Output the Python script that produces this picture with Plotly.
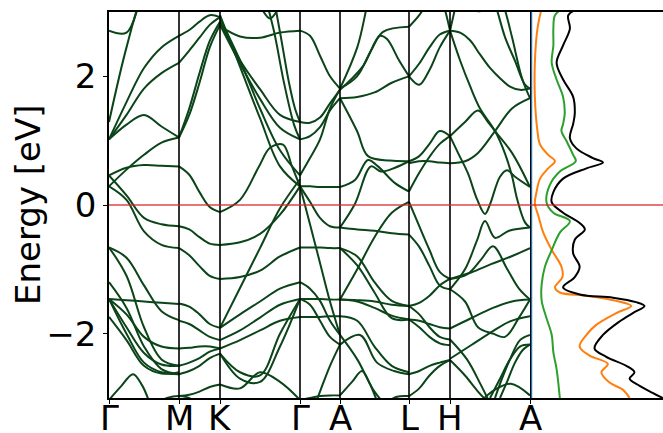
import plotly.graph_objects as go

# ---------------- data ----------------
KLABELS = ["Γ", "M", "K", "Γ", "A", "L", "H", "A"]
KPTS = [0, 70, 111, 191, 231, 300, 341, 421]
FRAC = [0, 0.25, 0.5, 0.75, 1.0]
YTICKS = [-2, 0, 2]

# band energies (eV) sampled at FRAC along each path segment
SEG_GM = [
    [2.71, 2.68, 3.3, 3.6, 3.8],
    [1.29, 2.45, 3.35, 3.8, 4.0],
    [1.02, 1.6, 2.13, 2.45, 2.63],
    [1.02, 1.4, 1.81, 2.05, 2.21],
    [1.02, 1.25, 1.40, 1.22, 1.05],
    [0.29, 0.55, 0.78, 0.97, 1.05],
    [0.46, 0.58, 0.62, 0.61, 0.60],
    [0.46, 0.15, -0.2, -0.3, -0.33],
    [0.29, 0.08, -0.41, -0.62, -0.67],
    [-0.66, -0.82, -1.25, -1.65, -1.79],
    [-0.66, -1.1, -1.9, -2.4, -2.5],
    [-1.2, -1.6, -2.2, -2.55, -2.63],
    [-1.46, -1.48, -1.5, -1.52, -1.54],
    [-1.46, -1.7, -2.05, -2.2, -2.23],
    [-1.46, -1.9, -2.3, -2.48, -2.5],
    [-1.46, -2.0, -2.45, -2.6, -2.63],
    [-1.74, -2.1, -2.5, -2.62, -2.6],
]
SEG_MK = [
    [2.63, 2.72, 2.85, 2.95, 2.92],
    [2.21, 2.4, 2.6, 2.8, 2.92],
    [1.05, 1.5, 2.05, 2.55, 2.85],
    [1.05, 1.4, 1.9, 2.45, 2.8],
    [0.60, 0.47, 0.2, -0.03, -0.11],
    [-0.33, -0.38, -0.5, -0.6, -0.62],
    [-0.67, -0.78, -0.95, -1.1, -1.15],
    [-1.53, -1.58, -1.7, -1.85, -1.91],
    [-1.8, -1.85, -1.95, -2.05, -2.1],
    [-2.23, -2.22, -2.2, -2.2, -2.23],
    [-2.5, -2.45, -2.38, -2.28, -2.23],
    [-2.63, -2.58, -2.5, -2.38, -2.31],
    [-2.97, -2.95, -2.9, -2.83, -2.79],
]
SEG_KG = [
    [2.78, 2.62, 2.6, 2.68, 2.71],
    [2.85, 2.25, 1.8, 1.4, 1.29],
    [2.8, 2.2, 1.65, 1.2, 1.02],
    [2.9, 2.25, 1.5, 0.85, 0.46],
    [2.95, 2.15, 1.35, 0.6, 0.29],
    [-1.91, -1.29, -0.67, -0.05, 0.40],
    [-0.62, -0.58, -0.45, -0.15, 0.29],
    [-1.15, -1.12, -1.02, -0.8, -0.66],
    [-2.1, -1.95, -1.75, -1.55, -1.46],
    [-2.23, -2.1, -1.95, -1.8, -1.74],
    [-1.91, -1.7, -1.5, -1.3, -1.2],
    [-2.31, -2.6, -2.65, -2.0, -1.46],
    [-2.31, -2.7, -2.75, -2.2, -1.46],
    [-2.79, -2.85, -2.6, -2.75, -3.03],
]
SEG_GA = [
    [2.71, 2.63, 2.32, 2.0, 1.81],
    [1.29, 1.28, 1.36, 1.58, 1.79],
    [1.02, 1.07, 1.21, 1.47, 1.66],
    [0.46, 0.73, 1.02, 1.5, 1.8],
    [0.29, 0.29, 0.28, 0.28, 0.28],
    [0.29, 0.05, -0.2, -0.33, -0.35],
    [-0.66, -0.66, -0.66, -0.67, -0.67],
    [0.29, -0.3, -0.9, -1.5, -2.02],
    [-1.2, -1.3, -1.49, -1.8, -2.02],
    [-1.46, -1.46, -1.46, -1.47, -1.47],
    [-1.74, -1.74, -1.74, -1.73, -1.73],
    [-1.46, -1.55, -1.8, -2.05, -2.17],
    [-3.03, -3.0, -2.97, -2.96, -2.96],
    [-3.6, -3.3, -2.9, -2.5, -2.17],
]
SEG_AL = [
    [1.81, 2.45, 3.5, 3.9, 4.0],
    [1.66, 1.68, 1.75, 1.9, 2.0],
    [-1.47, -1.0, -0.5, -0.12, 0.05],
    [-0.35, -0.38, -0.4, -0.44, -0.46],
    [-0.67, -0.8, -1.2, -1.49, -1.57],
    [-0.67, -0.94, -1.36, -1.76, -1.78],
    [-1.47, -1.48, -1.5, -1.55, -1.57],
    [-1.47, -1.5, -1.6, -1.72, -1.78],
    [-1.73, -1.8, -2.2, -2.5, -2.6],
    [-2.02, -2.4, -2.9, -3.2, -3.4],
]
SEG_LH = [
    [2.0, 1.87, 2.1, 2.45, 2.71],
    [2.0, 2.2, 2.45, 2.65, 2.71],
    [2.77, 2.95, 3.2, 3.4, 3.5],
    [0.68, 0.76, 0.95, 1.15, 1.07],
    [0.65, 0.68, 0.68, 0.66, 0.65],
    [0.21, 0.5, 0.75, 0.95, 1.07],
    [0.05, -0.33, -0.7, -1.04, -1.15],
    [-0.46, -0.65, -0.95, -1.25, -1.31],
    [-1.57, -1.52, -1.41, -1.25, -1.15],
    [-1.78, -1.8, -1.85, -1.9, -1.92],
    [-1.57, -1.7, -1.9, -2.05, -2.09],
    [-1.78, -1.9, -2.05, -2.15, -2.18],
    [-2.63, -2.58, -2.5, -2.45, -2.41],
    [-2.97, -2.85, -2.65, -2.5, -2.41],
]
SEGMENTS = [SEG_GM, SEG_MK, SEG_KG, SEG_GA, SEG_AL, SEG_LH]

# band pieces with their own k samples: (k list, energy list)
FREE_BANDS = [
    ([0, 12, 24, 33, 40], [-3.03, -2.82, -2.63, -2.8, -3.05]),
    ([45, 58, 70, 80, 88], [-3.1, -3.0, -2.97, -3.0, -3.1]),
    ([148, 154, 161, 168, 174], [3.3, 3.02, 2.9, 3.02, 3.3]),
    ([165, 172, 180, 186, 191], [3.2, 2.6, 1.9, 1.5, 1.29]),
    ([155, 165, 175, 185, 191], [3.3, 2.7, 1.9, 1.25, 1.02]),
    ([111, 131, 150, 161, 174, 183, 191], [-0.11, 0.08, 0.6, 0.89, 0.94, 0.6, 0.29]),
    ([231, 248, 262, 274, 300], [1.81, 2.0, 2.4, 2.69, 2.77]),
    ([257, 268, 274, 280, 290], [3.4, 3.08, 3.03, 3.08, 3.4]),
    ([231, 254, 271, 278, 290, 300], [1.79, 2.16, 2.63, 2.58, 2.25, 2.0]),
    ([231, 248, 259, 281, 300], [1.66, 1.15, 0.76, 0.69, 0.68]),
    ([231, 246, 259, 269, 286, 300], [0.28, 0.39, 0.70, 0.60, 0.34, 0.21]),
    ([231, 246, 262, 272, 286, 300], [-0.35, 0.02, 0.6, 0.52, 0.58, 0.68]),
    ([231, 251, 268, 285, 300], [-2.17, -2.02, -2.45, -2.58, -2.63]),
    ([231, 243, 253, 260, 268], [-2.96, -2.75, -2.58, -2.75, -3.05]),
    ([275, 288, 300], [-3.1, -2.98, -2.97]),
    ([328, 336, 341], [3.4, 3.03, 2.71]),
    ([341, 351, 361, 371, 381, 391, 401, 411, 421], [2.71, 2.68, 2.56, 2.34, 2.13, 1.97, 1.84, 1.79, 1.81]),
    ([341, 346, 351], [2.71, 3.05, 3.4]),
    ([358, 366, 370, 374, 382], [3.3, 3.04, 3.01, 3.04, 3.3]),
    ([384, 388, 396, 406, 416, 421], [3.2, 3.03, 2.61, 2.24, 1.87, 1.81]),
    ([392, 396, 403, 413, 421], [3.2, 3.03, 2.61, 1.97, 1.66]),
    ([341, 351, 361, 371, 386, 396, 403, 408, 416, 421], [2.71, 2.25, 1.85, 1.5, 1.15, 0.8, 0.45, 0.1, -0.27, -0.35]),
    ([341, 356, 369, 379, 386, 403, 421], [1.07, 1.29, 1.47, 1.29, 1.15, 0.81, 0.28]),
    ([341, 356, 369, 386, 403, 421], [0.65, 0.68, 0.81, 1.15, 1.50, 1.66]),
    ([341, 349, 359, 368, 376, 381, 391, 398, 406, 421], [1.07, 0.81, 0.49, 0.09, -0.14, 0.01, 0.44, 0.54, 0.44, 0.28]),
    ([341, 356, 368, 376, 386, 400, 421], [-1.31, -1.0, -0.55, -0.25, -0.51, -0.4, -0.35]),
    ([341, 358, 372, 384, 398, 410, 421], [-1.15, -1.08, -0.85, -0.64, -0.99, -1.3, -1.47]),
    ([341, 362, 382, 402, 421], [-1.15, -1.05, -0.92, -0.8, -0.67]),
    ([341, 362, 384, 403, 421], [-1.92, -1.76, -1.6, -1.5, -1.47]),
    ([341, 356, 369, 384, 396, 410, 421], [-1.31, -1.5, -1.9, -2.0, -2.05, -1.75, -1.47]),
    ([341, 362, 384, 401, 421], [-2.39, -2.18, -1.96, -1.81, -1.73]),
    ([386, 393, 401, 411, 421], [-3.0, -2.7, -2.4, -2.1, -2.02]),
    ([381, 391, 401, 411, 421], [-3.0, -2.7, -2.4, -2.2, -2.17]),
    ([391, 398, 406, 414, 421], [-3.0, -2.75, -2.45, -2.25, -2.17]),
    ([341, 356, 369, 378], [-2.41, -2.65, -2.9, -3.05]),
    ([341, 358, 372, 380], [-2.09, -2.4, -2.8, -3.05]),
    ([372, 386, 402, 421], [-3.05, -2.87, -2.78, -2.96]),
]

# density of states (arbitrary units) vs energy
DOS_E_ORANGE = [3.06, 2.74, 2.21, 1.68, 1.15, 0.94, 0.78, 0.68, 0.57, 0.41, 0.20, 0.02, -0.17, -0.43,
                -0.70, -0.96, -1.12, -1.28, -1.36, -1.41, -1.49, -1.57, -1.68, -1.86, -2.02, -2.20,
                -2.34, -2.47, -2.60, -2.76, -2.87, -3.0]
DOS_ORANGE = [0.31, 0.18, 0.10, 0.10, 0.18, 0.26, 0.51, 0.72, 0.51, 0.26, 0.15, 0.10, 0.21, 0.36,
              0.62, 0.92, 0.95, 0.72, 0.87, 1.69, 2.61, 3.07, 2.61, 2.0, 1.69, 1.48,
              1.79, 2.35, 2.15, 2.40, 2.81, 3.02]
DOS_E_GREEN = [3.06, 2.95, 2.74, 2.48, 2.21, 1.95, 1.68, 1.42, 1.26, 1.15, 0.99, 0.78, 0.68, 0.52,
               0.31, 0.04, -0.12, -0.25, -0.43, -0.70, -0.96, -1.23, -1.49, -1.76, -2.02, -2.29,
               -2.55, -3.0]
DOS_GREEN = [0.97, 0.72, 0.67, 0.67, 0.62, 0.77, 0.97, 1.02, 0.97, 0.92, 1.08, 1.28, 1.36, 0.87,
             0.56, 0.46, 0.67, 1.18, 0.87, 0.62, 0.41, 0.31, 0.31, 0.46, 0.62, 0.67,
             0.77, 0.87]
DOS_E_BLACK = [3.06, 2.95, 2.74, 2.48, 2.21, 1.95, 1.68, 1.42, 1.26, 1.04, 0.88, 0.73, 0.66, 0.57,
               0.41, 0.20, 0.04, -0.12, -0.28, -0.38, -0.54, -0.75, -0.96, -1.12, -1.28, -1.39,
               -1.44, -1.51, -1.57, -1.68, -1.81, -2.02, -2.23, -2.36, -2.50, -2.60, -2.70, -2.81,
               -2.92, -3.0]
DOS_BLACK = [1.48, 1.13, 1.18, 0.97, 0.77, 0.97, 1.28, 1.33, 1.28, 1.18, 1.38, 1.89, 2.20, 1.69,
             0.97, 0.67, 0.62, 0.97, 1.48, 1.64, 1.33, 1.28, 1.48, 1.33, 0.97, 1.48,
             2.51, 3.22, 3.48, 3.12, 2.71, 2.20, 1.94, 2.30, 2.92, 3.17, 3.02, 3.33,
             3.73, 4.04]
DOS_E_BLUE = [3.06, 1.5, 0.0, -1.5, -3.0]
DOS_BLUE = [0.0, 0.0, 0.0, 0.0, 0.0]

# ---------------- figure ----------------
BAND_COLOR = "#0a4418"
FONT = "DejaVu Sans"
W, H = 663, 433
ML, MR, MT, MB = 109, 0, 12, 35
split = (KPTS[-1] - KPTS[0]) / (W - ML - MR)

fig = go.Figure()

curves = []
for i, seg in enumerate(SEGMENTS):
    k0, k1 = KPTS[i], KPTS[i + 1]
    ks = [k0 + f * (k1 - k0) for f in FRAC]
    for e in seg:
        curves.append((ks, e))
curves.extend(FREE_BANDS)

for ks, es in curves:
    fig.add_trace(go.Scatter(
        x=ks, y=es, mode="lines", xaxis="x", yaxis="y",
        line=dict(color=BAND_COLOR, width=2, shape="spline", smoothing=1.0),
        hoverinfo="skip", showlegend=False))

for xs, es, col, wd in [(DOS_BLUE, DOS_E_BLUE, "#1f77b4", 1.2),
                        (DOS_ORANGE, DOS_E_ORANGE, "#ff7f0e", 2),
                        (DOS_GREEN, DOS_E_GREEN, "#2ca02c", 2),
                        (DOS_BLACK, DOS_E_BLACK, "black", 2)]:
    fig.add_trace(go.Scatter(
        x=xs, y=es, mode="lines", xaxis="x2", yaxis="y2",
        line=dict(color=col, width=wd, shape="spline", smoothing=1.0),
        hoverinfo="skip", showlegend=False))

shapes = []
for kx in KPTS[1:-1]:
    shapes.append(dict(type="line", xref="x", yref="y domain", x0=kx, x1=kx, y0=0, y1=1,
                       line=dict(color="black", width=1.6), layer="above"))
shapes.append(dict(type="line", xref="paper", yref="y", x0=0, x1=1, y0=0, y1=0,
                   line=dict(color="rgba(214,39,40,0.85)", width=1.5), layer="above"))

annotations = [dict(text="Energy [eV]", xref="paper", yref="paper",
                    x=(28 - ML) / (W - ML - MR), y=0.5, xanchor="center", yanchor="middle",
                    textangle=-90, showarrow=False, font=dict(size=34))]
for kx, lab in zip(KPTS, KLABELS):
    annotations.append(dict(text=lab, xref="x", yref="paper", x=kx, y=0, xanchor="center",
                            yanchor="top", yshift=-2, height=32, valign="middle",
                            showarrow=False, font=dict(size=34)))

fig.update_layout(
    width=W, height=H,
    margin=dict(l=ML, r=MR, t=MT, b=MB, pad=0, autoexpand=False),
    paper_bgcolor="white", plot_bgcolor="white",
    font=dict(family=FONT, size=34, color="black"),
    shapes=shapes,
    annotations=annotations,
    xaxis=dict(domain=[0, split], range=[KPTS[0], KPTS[-1]], tickvals=KPTS, showticklabels=False,
               ticks="outside", ticklen=4, tickwidth=1, tickcolor="black", automargin=False,
               showline=True, linecolor="black", linewidth=1.6, mirror=True,
               showgrid=False, zeroline=False),
    yaxis=dict(range=[-3, 3], tickvals=YTICKS, ticks="outside", ticklen=4, tickwidth=1,
               tickcolor="black", showline=True, linecolor="black", linewidth=1.6, mirror=True,
               automargin=False, showgrid=False, zeroline=False, tickfont=dict(size=34)),
    xaxis2=dict(domain=[split, 1], range=[-0.05, 4.05], anchor="y2", automargin=False,
                showline=True, linecolor="black", linewidth=1.6, mirror=True,
                ticks="", showticklabels=False, showgrid=False, zeroline=False),
    yaxis2=dict(range=[-3, 3], anchor="x2", showline=False, ticks="", showticklabels=False,
                automargin=False, showgrid=False, zeroline=False),
)

fig.write_html("out.html", config={"displayModeBar": False})
